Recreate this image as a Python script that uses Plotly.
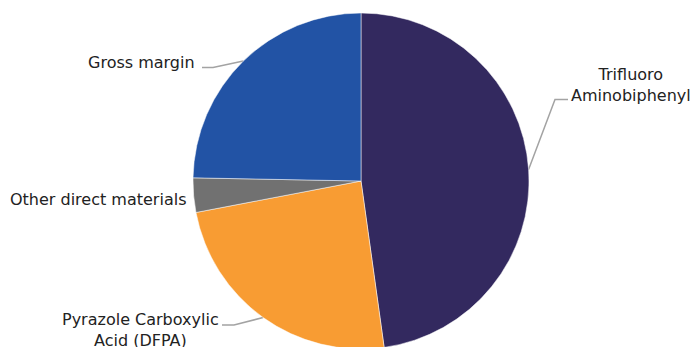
import math
import plotly.graph_objects as go

# Cost breakdown shares (percent)
labels = ["Trifluoro<br>Aminobiphenyl", "Pyrazole Carboxylic<br>Acid (DFPA)",
          "Other direct materials", "Gross margin"]
values = [47.8, 24.2, 3.3, 24.7]
colors = ["#33295F", "#F89C33", "#717171", "#2253A5"]

W, H = 691, 360
CX, CY, R = 361, 181, 168

fig = go.Figure()
fig.add_trace(go.Pie(
    labels=labels, values=values, sort=False, direction="clockwise", rotation=0,
    textinfo="none", hoverinfo="label+percent",
    marker=dict(colors=colors, line=dict(color="white", width=0.5)),
    domain=dict(x=[(CX - R) / W, (CX + R) / W], y=[(H - CY - R) / H, (H - CY + R) / H]),
    showlegend=False,
))

# label placement: (anchor x, anchor y, xanchor, elbow, line end)
label_pos = [
    (631, 85, "center", (555, 99.5), (568, 99.5)),
    (140, 329.5, "center", (234, 325), (222, 325)),
    (188, 199, "right", None, None),
    (197, 62, "right", (213, 67.5), (202, 67.5)),
]

total = sum(values)
start = 0.0
for v, lab, (ax, ay, xa, elbow, end) in zip(values, labels, label_pos):
    mid = math.radians((start + v / 2) / total * 360)
    start += v
    rx, ry = CX + R * math.sin(mid), CY - R * math.cos(mid)
    if elbow is not None:
        fig.add_trace(go.Scatter(
            x=[rx, elbow[0], end[0]], y=[ry, elbow[1], end[1]], mode="lines",
            line=dict(color="#a3a3a3", width=1.5), hoverinfo="skip", showlegend=False,
        ))
    fig.add_annotation(x=ax, y=ay, xref="x", yref="y", text=lab, showarrow=False,
                       xanchor=xa, yanchor="middle", align="center",
                       font=dict(family="DejaVu Sans, Verdana, sans-serif", size=16, color="#222222"))

fig.update_layout(
    width=W, height=H, margin=dict(l=0, r=0, t=0, b=0),
    paper_bgcolor="white", plot_bgcolor="rgba(0,0,0,0)",
    xaxis=dict(range=[0, W], visible=False, fixedrange=True),
    yaxis=dict(range=[H, 0], visible=False, fixedrange=True),
)

fig.write_html("out.html")
